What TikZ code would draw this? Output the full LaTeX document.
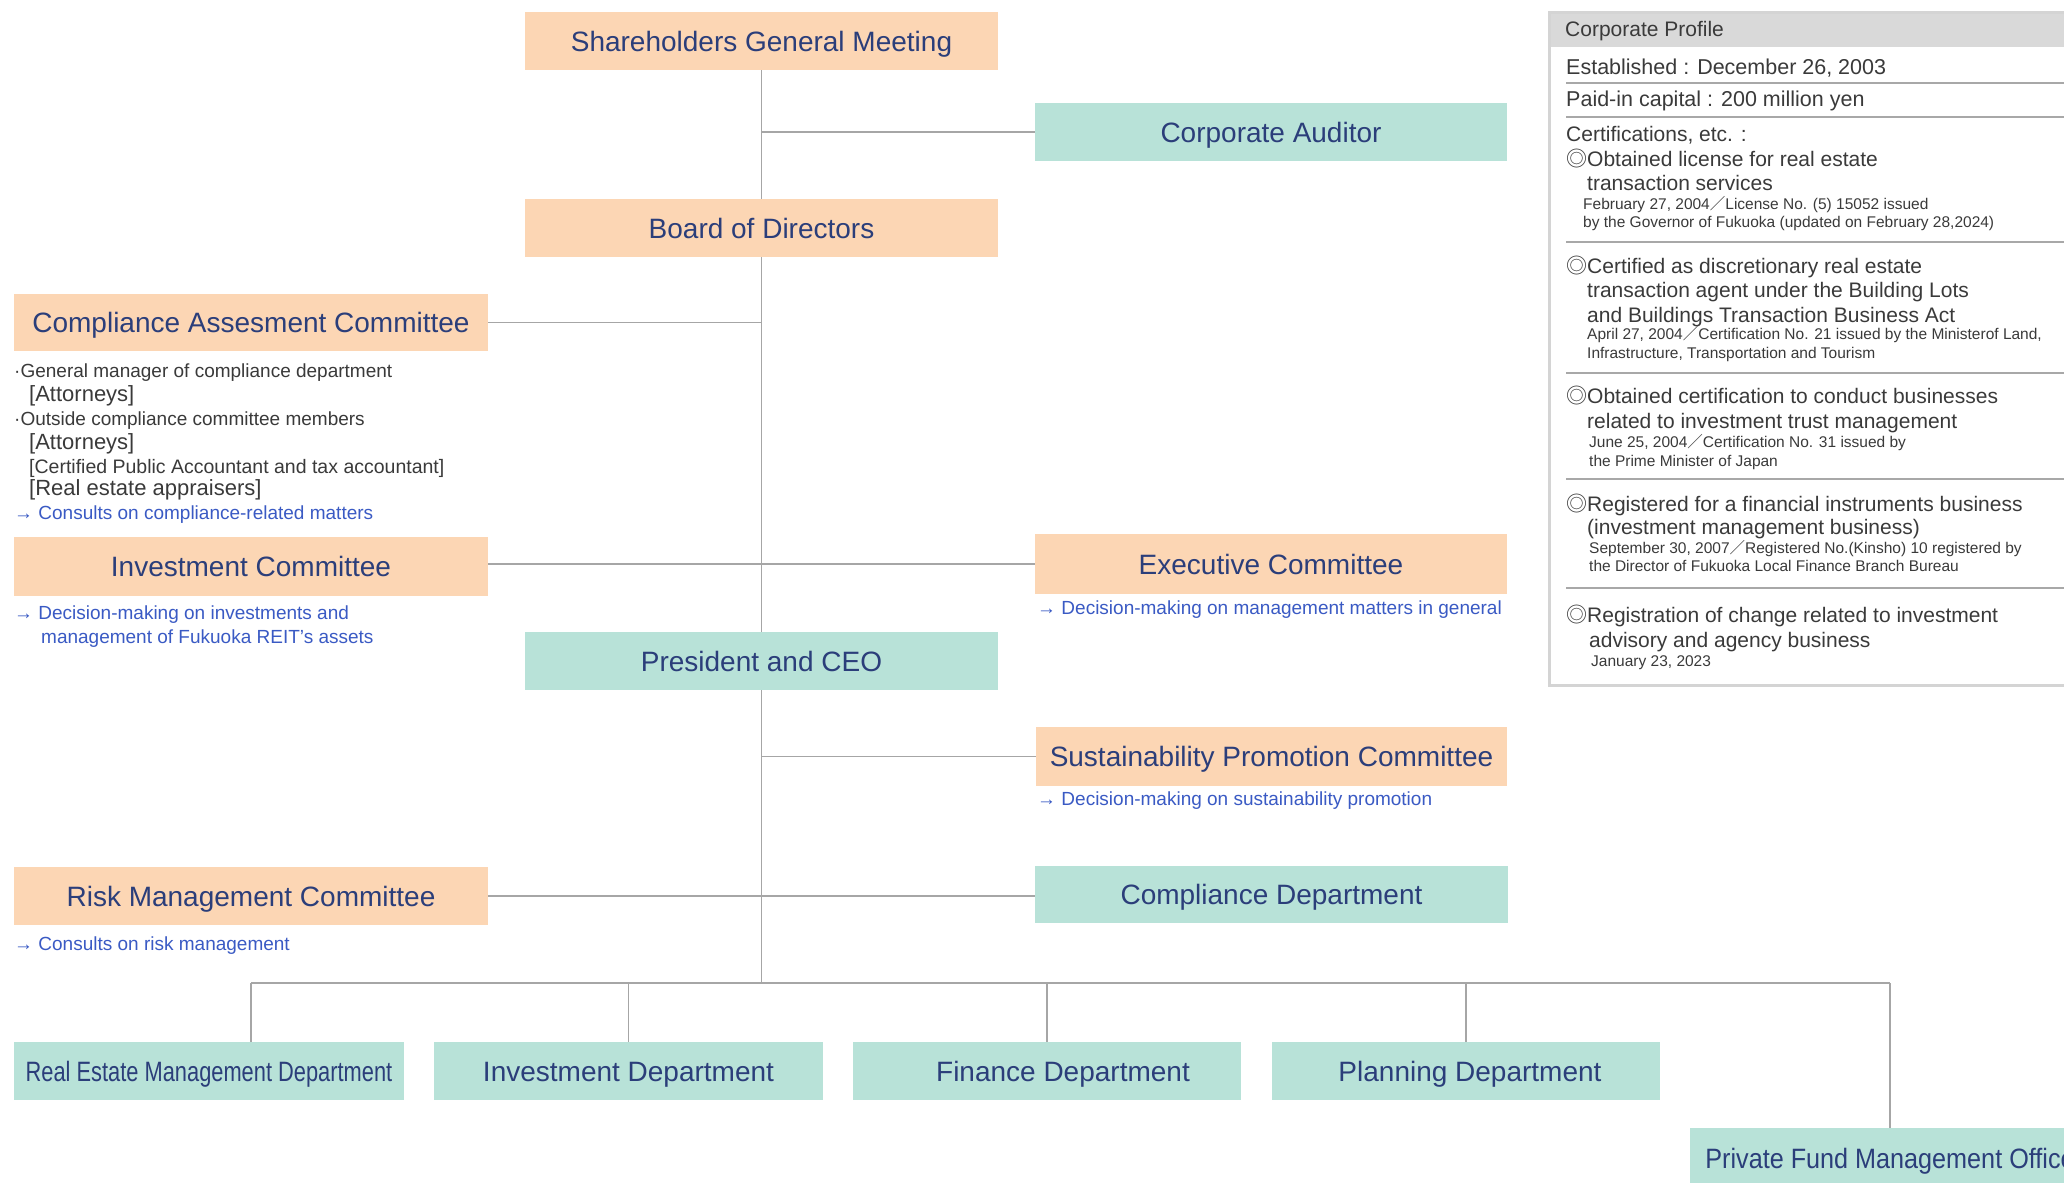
\documentclass[tikz,border=0pt]{standalone}
\usepackage{fontspec}
\usepackage{graphicx}
\setmainfont{Liberation Sans}
\newfontfamily\cjk{Noto Sans CJK JP}
\definecolor{peach}{HTML}{FCD6B4}
\definecolor{teal}{HTML}{B8E2D8}
\definecolor{navy}{HTML}{2B3E7A}
\definecolor{descblue}{HTML}{3A5AC4}
\definecolor{lgray}{HTML}{A6A6A6}
\definecolor{ptext}{HTML}{3A3A3A}
\definecolor{hdrgray}{HTML}{D9D9D9}
\definecolor{pborder}{HTML}{D4D4D4}
\definecolor{sepgray}{HTML}{A8A8A8}
\newcommand\myfs[1]{\fontsize{#1pt}{#1pt}\selectfont}
\newcommand\cs{{\cjk ／}}
\newcommand\dc{{\cjk ◎}}
\newcommand\tline[6]{\node[txt,#1,font=\myfs{#5}] (#2) at (#3,{#4+0.36*#5}) {#6};}
\begin{document}
\begin{tikzpicture}[x=1pt,y=-1pt,
  pbox/.style={fill=peach,text=navy,font=\myfs{28},inner sep=0pt,text height=20pt,text depth=0pt,minimum height=58pt},
  tbox/.style={fill=teal,text=navy,font=\myfs{28},inner sep=0pt,text height=20pt,text depth=0pt,minimum height=58pt},
  conn/.style={draw=lgray,line width=1.8pt},
  txt/.style={anchor=base west,inner sep=0pt},
  gtx/.style={text=ptext},
  btx/.style={text=descblue},
  sep/.style={draw=sepgray,line width=1.5pt}]
\useasboundingbox (0,0) rectangle (2064,1183);
\fill[white] (0,0) rectangle (2064,1183);

% main boxes
\node[pbox,minimum width=473pt] (sgm) at (761.5,41) {Shareholders General Meeting};
\node[tbox,minimum width=472pt] (aud) at (1271,132) {Corporate Auditor};
\node[pbox,minimum width=473pt] (bod) at (761.5,228) {Board of Directors};
\node[pbox,minimum width=474pt,minimum height=57pt] (cac) at (251,322.5) {Compliance Assesment Committee};
\node[pbox,minimum width=474pt,minimum height=59pt] (ic) at (251,566.5) {Investment Committee};
\node[pbox,minimum width=472pt,minimum height=60pt] (ec) at (1271,564) {Executive Committee};
\node[tbox,minimum width=473pt] (ceo) at (761.5,661) {President and CEO};
\node[pbox,minimum width=471pt,minimum height=59pt] (spc) at (1271.5,756.5) {Sustainability Promotion Committee};
\node[pbox,minimum width=474pt] (rmc) at (251,896) {Risk Management Committee};
\node[tbox,minimum width=473pt,minimum height=57pt] (cd) at (1271.5,894.5) {Compliance Department};

% departments
\node[tbox,minimum width=390pt] (re) at (209,1071) {\scalebox{0.78}[1]{Real Estate Management Department}};
\node[tbox,minimum width=389pt] (inv) at (628.5,1071) {Investment Department};
\node[tbox,minimum width=388pt] (fin) at (1047,1071) {\hspace*{32pt}Finance Department};
\node[tbox,minimum width=388pt] (plan) at (1466,1071) {\hspace*{8pt}Planning Department};
\node[tbox,minimum width=400pt,minimum height=60pt] (pfm) at (1890,1158) {\scalebox{0.9}[1]{Private Fund Management Office}};

% connectors
\coordinate (bus) at (761.5,983);
\coordinate (busL) at (251,983);
\coordinate (busR) at (1890,983);
\draw[conn] (sgm.south) -- (bod.north);
\draw[conn] (bod.south) -- (ceo.north);
\draw[conn] (ceo.south) -- (bus);
\draw[conn] (aud.west) -- (aud.west -| sgm.south);
\draw[conn] (cac.east) -- (cac.east -| bod.south);
\draw[conn] (ic.east |- ec.west) -- (ec.west);
\draw[conn] (spc.west) -- (spc.west -| ceo.south);
\draw[conn] (rmc.east) -- (rmc.east -| cd.west);
\draw[conn,line width=2.5pt] (busL) -- (busR);
\draw[conn,line width=1.2pt] (busL) -- (busL |- re.north);
\draw[conn,line width=1.2pt] (inv.north |- busL) -- (inv.north);
\draw[conn,line width=1.2pt] (fin.north |- busL) -- (fin.north);
\draw[conn,line width=1.2pt] (plan.north |- busL) -- (plan.north);
\draw[conn,line width=1.2pt] (busR) -- (busR |- pfm.north);

% compliance assessment committee details
\tline{gtx}{c1}{14}{371}{19}{·General manager of compliance department}
\tline{gtx}{c2}{29}{394}{22}{[Attorneys]}
\tline{gtx}{c3}{14}{419}{19}{·Outside compliance committee members}
\tline{gtx}{c4}{29}{442}{22}{[Attorneys]}
\tline{gtx}{c5}{29}{466}{19.5}{[Certified Public Accountant and tax accountant]}
\tline{gtx}{c6}{29}{488}{22}{[Real estate appraisers]}
\tline{btx}{c7}{14}{513}{19}{→ Consults on compliance-related matters}

% descriptions
\tline{btx}{i1}{14}{613}{19}{→ Decision-making on investments and}
\tline{btx}{i2}{41}{637}{19}{management of Fukuoka REIT’s assets}
\tline{btx}{e1}{1037}{608}{19}{→ Decision-making on management matters in general}
\tline{btx}{s1}{1037}{799}{19}{→ Decision-making on sustainability promotion}
\tline{btx}{r1}{14}{944}{19}{→ Consults on risk management}

% corporate profile panel
\draw[draw=pborder,line width=3pt,fill=white] (1549,12) rectangle (2080,685);
\node[fill=hdrgray,anchor=north west,inner sep=0pt,minimum width=530pt,minimum height=33pt] (phdr) at (1550.5,13.5) {};
\tline{gtx}{ph}{1565}{29}{21}{Corporate Profile}
\tline{gtx}{p1}{1566}{67}{21.5}{Established : December 26, 2003}
\draw[sep] (1566,83) -- (2064,83);
\tline{gtx}{p2}{1566}{99}{21.5}{Paid-in capital : 200 million yen}
\draw[sep] (1566,117) -- (2064,117);
\tline{gtx}{p3}{1566}{134}{21}{Certifications, etc. :}
\tline{gtx}{p4}{1566}{159}{21}{\dc Obtained license for real estate}
\tline{gtx}{p5}{1587}{183}{21}{transaction services}
\tline{gtx}{p6}{1583}{204}{15.5}{February 27, 2004\cs License No. (5) 15052 issued}
\tline{gtx}{p7}{1583}{222}{15.5}{by the Governor of Fukuoka (updated on February 28,2024)}
\draw[sep] (1566,242) -- (2064,242);
\tline{gtx}{p8}{1566}{266}{21}{\dc Certified as discretionary real estate}
\tline{gtx}{p9}{1587}{290}{21}{transaction agent under the Building Lots}
\tline{gtx}{p10}{1587}{315}{21}{and Buildings Transaction Business Act}
\tline{gtx}{p11}{1587}{334}{15.5}{April 27, 2004\cs Certification No. 21 issued by the Ministerof Land,}
\tline{gtx}{p12}{1587}{353}{15.5}{Infrastructure, Transportation and Tourism}
\draw[sep] (1566,373) -- (2064,373);
\tline{gtx}{p13}{1566}{396}{21}{\dc Obtained certification to conduct businesses}
\tline{gtx}{p14}{1587}{421}{21}{related to investment trust management}
\tline{gtx}{p15}{1589}{442}{15.5}{June 25, 2004\cs Certification No. 31 issued by}
\tline{gtx}{p16}{1589}{461}{15.5}{the Prime Minister of Japan}
\draw[sep] (1566,479) -- (2064,479);
\tline{gtx}{p17}{1566}{504}{21}{\dc Registered for a financial instruments business}
\tline{gtx}{p18}{1587}{527}{21}{(investment management business)}
\tline{gtx}{p19}{1589}{548}{15.5}{September 30, 2007\cs Registered No.(Kinsho) 10 registered by}
\tline{gtx}{p20}{1589}{566}{15.5}{the Director of Fukuoka Local Finance Branch Bureau}
\draw[sep] (1566,588) -- (2064,588);
\tline{gtx}{p21}{1566}{615}{21}{\dc Registration of change related to investment}
\tline{gtx}{p22}{1589}{640}{21}{advisory and agency business}
\tline{gtx}{p23}{1591}{661}{15.5}{January 23, 2023}
\end{tikzpicture}
\end{document}
